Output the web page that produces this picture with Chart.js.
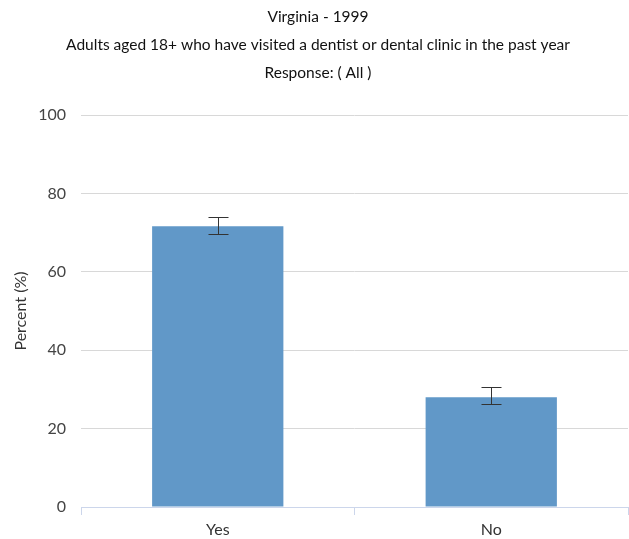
<!DOCTYPE html>
<html>
<head>
<meta charset="utf-8">
<script src="https://cdn.jsdelivr.net/npm/chart.js@4/dist/chart.umd.min.js"></script>
<style>
  html, body { margin: 0; padding: 0; background: #fff; }
  #wrap { width: 629px; height: 539px; }
</style>
</head>
<body>
<div id="wrap"><canvas id="chart" width="629" height="539"></canvas></div>
<script>
// data
const categories = ['Yes', 'No'];
const percent = [71.6, 28.0];
const ciLow = [69.7, 26.2];
const ciHigh = [74.0, 30.5];
const titleLines = [
  'Virginia - 1999',
  'Adults aged 18+ who have visited a dentist or dental clinic in the past year',
  'Response: ( All )'
];

Chart.defaults.font.family = 'Lato, "Open Sans", sans-serif';

// whiskers for the confidence interval
const errorBars = {
  id: 'errorBars',
  afterDatasetsDraw(chart) {
    const meta = chart.getDatasetMeta(0);
    const y = chart.scales.y;
    const ctx = chart.ctx;
    ctx.save();
    ctx.strokeStyle = '#333';
    ctx.lineWidth = 1;
    meta.data.forEach((bar, i) => {
      const x = Math.round(bar.x) + 0.5;
      const top = Math.round(y.getPixelForValue(ciHigh[i])) + 0.5;
      const bot = Math.round(y.getPixelForValue(ciLow[i])) + 0.5;
      ctx.beginPath();
      ctx.moveTo(x, top); ctx.lineTo(x, bot);
      ctx.moveTo(x - 10, top); ctx.lineTo(x + 10, top);
      ctx.moveTo(x - 10, bot); ctx.lineTo(x + 10, bot);
      ctx.stroke();
    });
    ctx.restore();
  }
};

new Chart(document.getElementById('chart'), {
  type: 'bar',
  data: {
    labels: categories,
    datasets: [{
      label: 'Percent',
      data: percent,
      backgroundColor: '#6198c8',
      borderWidth: 0,
      categoryPercentage: 1,
      barPercentage: 0.48
    }]
  },
  options: {
    responsive: false,
    animation: false,
    layout: { padding: { left: 8, right: 1, top: 3, bottom: 0 } },
    plugins: {
      legend: { display: false },
      tooltip: { enabled: false },
      title: {
        display: true,
        text: titleLines,
        color: '#111',
        font: { size: 15.5, weight: 'normal', lineHeight: '28px' },
        padding: { top: 0, bottom: 28 }
      }
    },
    scales: {
      x: {
        offset: true,
        grid: {
          offset: true,
          drawOnChartArea: false,
          color: '#ccd6eb',
          tickLength: 8
        },
        border: { color: '#ccd6eb' },
        ticks: { color: '#333', font: { size: 16 }, padding: 5 },
        afterFit: s => { s.height = 32; }
      },
      y: {
        min: 0,
        max: 100,
        ticks: { stepSize: 20, color: '#444', font: { size: 16 }, padding: 15 },
        grid: { color: '#d8d8d8', drawTicks: false },
        border: { display: false },
        title: {
          display: true,
          text: 'Percent (%)',
          color: '#333',
          font: { size: 16 },
          padding: { top: 3, bottom: 0 }
        },
        afterFit: s => { s.width = 73; }
      }
    }
  },
  plugins: [errorBars]
});
</script>
</body>
</html>
